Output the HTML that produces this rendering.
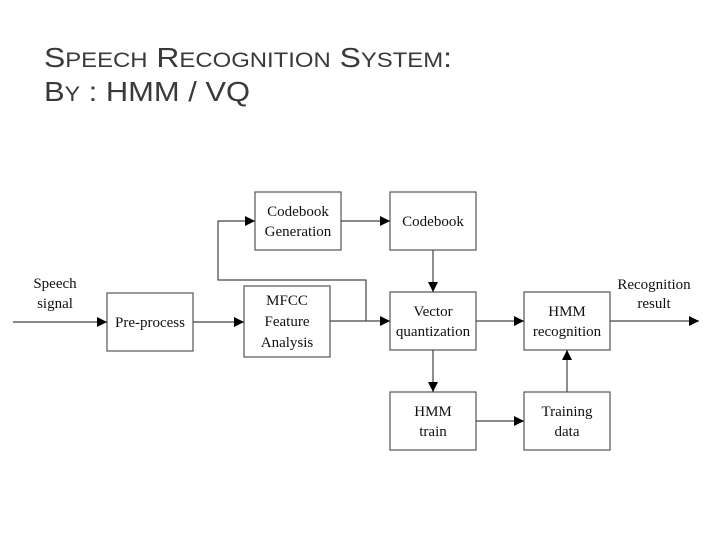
<!DOCTYPE html>
<html><head><meta charset="utf-8"><style>
html,body{margin:0;padding:0;background:#fff;}
svg{display:block;}
</style></head><body>
<svg width="728" height="546" viewBox="0 0 728 546" xmlns="http://www.w3.org/2000/svg">
<defs>
<marker id="a" markerWidth="10" markerHeight="10" refX="10" refY="5" orient="auto" markerUnits="userSpaceOnUse">
<path d="M0,0 L10,5 L0,10 z" fill="#000"/>
</marker>
</defs>
<g font-family="Liberation Sans, sans-serif" fill="#3a3a3a">
<text x="44" y="67" font-size="28" textLength="408" lengthAdjust="spacingAndGlyphs">S<tspan font-size="21">PEECH</tspan> R<tspan font-size="21">ECOGNITION</tspan> S<tspan font-size="21">YSTEM</tspan>:</text>
<text x="44" y="101" font-size="28" textLength="206" lengthAdjust="spacingAndGlyphs">B<tspan font-size="21">Y</tspan> : HMM / VQ</text>
</g>
<g fill="#fff" stroke="#555" stroke-width="1.2">
<rect x="255" y="192" width="86" height="58"/>
<rect x="390" y="192" width="86" height="58"/>
<rect x="107" y="293" width="86" height="58"/>
<rect x="244" y="286" width="86" height="71"/>
<rect x="390" y="292" width="86" height="58"/>
<rect x="524" y="292" width="86" height="58"/>
<rect x="390" y="392" width="86" height="58"/>
<rect x="524" y="392" width="86" height="58"/>
</g>
<g stroke="#444" stroke-width="1.2" fill="none">
<line x1="13" y1="322" x2="107" y2="322" marker-end="url(#a)"/>
<line x1="193" y1="322" x2="244" y2="322" marker-end="url(#a)"/>
<line x1="330" y1="321" x2="390" y2="321" marker-end="url(#a)"/>
<polyline points="366,321 366,280 218,280 218,221 255,221" marker-end="url(#a)"/>
<line x1="341" y1="221" x2="390" y2="221" marker-end="url(#a)"/>
<line x1="433" y1="250" x2="433" y2="292" marker-end="url(#a)"/>
<line x1="476" y1="321" x2="524" y2="321" marker-end="url(#a)"/>
<line x1="610" y1="321" x2="699" y2="321" marker-end="url(#a)"/>
<line x1="433" y1="350" x2="433" y2="392" marker-end="url(#a)"/>
<line x1="476" y1="421" x2="524" y2="421" marker-end="url(#a)"/>
<line x1="567" y1="392" x2="567" y2="350" marker-end="url(#a)"/>
</g>
<g font-family="Liberation Serif, serif" font-size="15" fill="#111" text-anchor="middle">
<text x="298" y="216">Codebook</text><text x="298" y="236">Generation</text>
<text x="433" y="226">Codebook</text>
<text x="150" y="327">Pre-process</text>
<text x="287" y="305">MFCC</text><text x="287" y="326">Feature</text><text x="287" y="347">Analysis</text>
<text x="433" y="316">Vector</text><text x="433" y="336">quantization</text>
<text x="567" y="316">HMM</text><text x="567" y="336">recognition</text>
<text x="433" y="416">HMM</text><text x="433" y="436">train</text>
<text x="567" y="416">Training</text><text x="567" y="436">data</text>
<text x="55" y="288">Speech</text><text x="55" y="308">signal</text>
<text x="654" y="289">Recognition</text><text x="654" y="308">result</text>
</g>
</svg>
</body></html>
